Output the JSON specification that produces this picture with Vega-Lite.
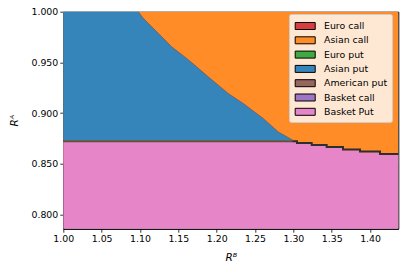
{
  "$schema": "https://vega.github.io/schema/vega-lite/v6.json",
  "width": 335,
  "height": 217,
  "autosize": {"type": "none"},
  "padding": {"left": 63.3, "top": 11.7, "right": 6.7, "bottom": 44.3},
  "background": "white",
  "config": {
    "font": "DejaVu Sans",
    "view": {"stroke": "black", "strokeWidth": 1},
    "axis": {
      "domainColor": "black", "tickColor": "black", "labelColor": "black", "titleColor": "black",
      "labelFontSize": 9.4, "titleFontSize": 10.5, "titleFontWeight": "normal", "titleFontStyle": "italic",
      "tickSize": 3.5, "tickWidth": 0.8, "domainWidth": 1, "labelPadding": 2, "grid": false, "labelFlush": false
    }
  },
  "layer": [
    {
      "data": {"values": [
        {"option": "Asian call", "x": 1.0, "lo": 0.85, "hi": 1.0},
        {"option": "Asian call", "x": 1.4368, "lo": 0.85, "hi": 1.0}
      ]},
      "mark": {"type": "area", "opacity": 1, "clip": true},
      "encoding": {
        "x": {"field": "x", "type": "quantitative", "scale": {"domain": [1.0, 1.4368], "nice": false, "zero": false},
              "axis": {"values": [1.0, 1.05, 1.1, 1.15, 1.2, 1.25, 1.3, 1.35, 1.4], "format": ".2f", "title": "Rᴮ", "titlePadding": 10}},
        "y": {"field": "lo", "type": "quantitative", "scale": {"domain": [0.7859, 1.0], "nice": false, "zero": false},
              "axis": {"values": [0.8, 0.825, 0.85, 0.875, 0.9, 0.925, 0.95, 0.975, 1.0], "format": ".3f", "title": "Rᴬ", "titlePadding": 11}},
        "y2": {"field": "hi"},
        "color": {
          "field": "option", "type": "nominal",
          "scale": {
            "domain": ["Euro call", "Asian call", "Euro put", "Asian put", "American put", "Basket call", "Basket Put"],
            "range": ["#da3d3d", "#ff8c26", "#41a941", "#3585bb", "#97675d", "#9f76c4", "#e685c8"]
          },
          "legend": {
            "orient": "none", "legendX": 225.7, "legendY": 2.3, "title": null,
            "symbolType": "M-0.83,-0.5H2.03V0.5H-0.83Z", "symbolSize": 196,
            "symbolStrokeColor": "black", "symbolStrokeWidth": 1, "symbolOpacity": 1,
            "labelFontSize": 9.4, "labelColor": "black", "labelOffset": 15.5,
            "padding": 4.5, "rowPadding": 1.3,
            "fillColor": "rgba(255,255,255,0.8)", "strokeColor": "#cccccc", "cornerRadius": 2,
            "labelExpr": "datum.label + '   '"
          }
        }
      }
    },
    {
      "data": {"values": [
        {"option": "Asian put", "x": 1.0, "lo": 0.8728, "hi": 1.0},
        {"option": "Asian put", "x": 1.0978, "lo": 0.8728, "hi": 1.0},
        {"option": "Asian put", "x": 1.1043, "lo": 0.8728, "hi": 0.9935},
        {"option": "Asian put", "x": 1.1196, "lo": 0.8728, "hi": 0.9819},
        {"option": "Asian put", "x": 1.1304, "lo": 0.8728, "hi": 0.9737},
        {"option": "Asian put", "x": 1.1413, "lo": 0.8728, "hi": 0.9654},
        {"option": "Asian put", "x": 1.1609, "lo": 0.8728, "hi": 0.9539},
        {"option": "Asian put", "x": 1.1739, "lo": 0.8728, "hi": 0.9456},
        {"option": "Asian put", "x": 1.1890, "lo": 0.8728, "hi": 0.9357},
        {"option": "Asian put", "x": 1.2021, "lo": 0.8728, "hi": 0.9275},
        {"option": "Asian put", "x": 1.2151, "lo": 0.8728, "hi": 0.9193},
        {"option": "Asian put", "x": 1.2347, "lo": 0.8728, "hi": 0.9094},
        {"option": "Asian put", "x": 1.2608, "lo": 0.8728, "hi": 0.8946},
        {"option": "Asian put", "x": 1.2803, "lo": 0.8728, "hi": 0.8814},
        {"option": "Asian put", "x": 1.2999, "lo": 0.8728, "hi": 0.8730}
      ]},
      "mark": {"type": "area", "opacity": 1},
      "encoding": {
        "x": {"field": "x", "type": "quantitative"},
        "y": {"field": "lo", "type": "quantitative"},
        "y2": {"field": "hi"},
        "color": {"field": "option", "type": "nominal"}
      }
    },
    {
      "data": {"values": [
        {"option": "Basket Put", "x": 1.0, "lo": 0.7859, "hi": 0.8715},
        {"option": "Basket Put", "x": 1.2999, "lo": 0.7859, "hi": 0.8714},
        {"option": "Basket Put", "x": 1.3047, "lo": 0.7859, "hi": 0.8697},
        {"option": "Basket Put", "x": 1.3239, "lo": 0.7859, "hi": 0.8677},
        {"option": "Basket Put", "x": 1.3434, "lo": 0.7859, "hi": 0.8657},
        {"option": "Basket Put", "x": 1.3647, "lo": 0.7859, "hi": 0.8632},
        {"option": "Basket Put", "x": 1.3869, "lo": 0.7859, "hi": 0.8612},
        {"option": "Basket Put", "x": 1.4129, "lo": 0.7859, "hi": 0.8588},
        {"option": "Basket Put", "x": 1.4368, "lo": 0.7859, "hi": 0.8588}
      ]},
      "mark": {"type": "area", "opacity": 1, "interpolate": "step-after"},
      "encoding": {
        "x": {"field": "x", "type": "quantitative"},
        "y": {"field": "lo", "type": "quantitative"},
        "y2": {"field": "hi"},
        "color": {"field": "option", "type": "nominal"}
      }
    },
    {
      "data": {"values": [
        {"x": 1.0, "y": 0.8722},
        {"x": 1.2999, "y": 0.8722}
      ]},
      "mark": {"type": "line", "color": "#5c5244", "strokeWidth": 2},
      "encoding": {
        "x": {"field": "x", "type": "quantitative"},
        "y": {"field": "y", "type": "quantitative"}
      }
    },
    {
      "data": {"values": [
        {"x": 1.2990, "y": 0.8722},
        {"x": 1.3047, "y": 0.8705},
        {"x": 1.3239, "y": 0.8685},
        {"x": 1.3434, "y": 0.8665},
        {"x": 1.3647, "y": 0.8640},
        {"x": 1.3869, "y": 0.8620},
        {"x": 1.4129, "y": 0.8596},
        {"x": 1.4368, "y": 0.8596}
      ]},
      "mark": {"type": "line", "color": "#2e2e2e", "strokeWidth": 2, "interpolate": "step-after"},
      "encoding": {
        "x": {"field": "x", "type": "quantitative"},
        "y": {"field": "y", "type": "quantitative"}
      }
    },
    {
      "data": {"values": [
        {"x": 1.0978, "y": 1.0},
        {"x": 1.1043, "y": 0.9935},
        {"x": 1.1196, "y": 0.9819},
        {"x": 1.1304, "y": 0.9737},
        {"x": 1.1413, "y": 0.9654},
        {"x": 1.1609, "y": 0.9539},
        {"x": 1.1739, "y": 0.9456},
        {"x": 1.1890, "y": 0.9357},
        {"x": 1.2021, "y": 0.9275},
        {"x": 1.2151, "y": 0.9193},
        {"x": 1.2347, "y": 0.9094},
        {"x": 1.2608, "y": 0.8946},
        {"x": 1.2803, "y": 0.8814},
        {"x": 1.2999, "y": 0.8730}
      ]},
      "mark": {"type": "line", "color": "#6b5060", "strokeWidth": 0.8, "opacity": 0.8},
      "encoding": {
        "x": {"field": "x", "type": "quantitative"},
        "y": {"field": "y", "type": "quantitative"}
      }
    }
  ]
}
